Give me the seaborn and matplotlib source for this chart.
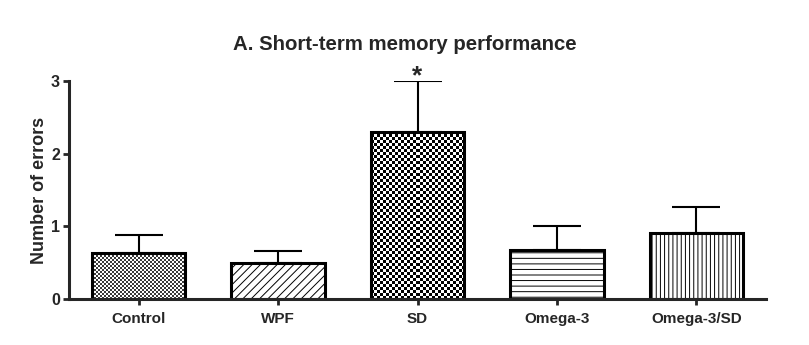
import numpy as np
import pandas as pd
import matplotlib
matplotlib.use("Agg")
import matplotlib.pyplot as plt
import seaborn as sns
from matplotlib.colors import ListedColormap

categories = ["Control", "WPF", "SD", "Omega-3", "Omega-3/SD"]
means = [0.63, 0.50, 2.30, 0.67, 0.91]
sem = [0.25, 0.16, 0.70, 0.33, 0.36]
yticks = [0, 1, 2, 3]
title = "A. Short-term memory performance"
ylabel = "Number of errors"

sns.set_style("ticks")
plt.rcParams["font.family"] = ["Liberation Sans", "DejaVu Sans"]
plt.rcParams["hatch.linewidth"] = 0.7

df = pd.DataFrame({"group": categories, "value": means})

fig = plt.figure(figsize=(8.09, 3.45), dpi=100)
ax = fig.add_axes([0.0853, 0.1333, 0.8617, 0.632])

sns.barplot(data=df, x="group", y="value", color="white", edgecolor="black",
            linewidth=2.2, width=0.67, errorbar=None, ax=ax, saturation=1)

patches = ax.patches
xs = np.arange(len(categories))
ax.errorbar(xs, means, yerr=[np.zeros(len(sem)), sem], fmt="none",
            ecolor="black", elinewidth=1.5, capsize=17, capthick=1.5, zorder=0.5)

ax.set_xlim(-0.5, 4.5)
ax.set_ylim(0, 3)
ax.set_yticks(yticks)

hatches = [None, "////", None, "---", "||||"]
for p, h in zip(patches, hatches):
    if h:
        p.set_hatch(h)

fig.canvas.draw()
checker = {0: (2.0, "#3a3a3a"), 2: (3.0, "black")}
for idx, (sq, col) in checker.items():
    p = patches[idx]
    bb = p.get_window_extent()
    nx = max(1, int(round(bb.width / sq)))
    ny = max(1, int(round(bb.height / sq)))
    arr = (np.add.outer(np.arange(ny), np.arange(nx)) % 2).astype(float)
    x0, y0 = p.get_x(), p.get_y()
    x1, y1 = x0 + p.get_width(), y0 + p.get_height()
    im = ax.imshow(arr, extent=(x0, x1, y0, y1), cmap=ListedColormap(["white", col]),
                   interpolation="nearest", aspect="auto", zorder=0.8)
    im.set_clip_path(p)
    p.set_facecolor("none")
    p.set_zorder(1)

ax.set_xlim(-0.5, 4.5)
ax.set_ylim(0, 3)

ax.annotate("*", xy=(2, means[2] + sem[2]), xytext=(0, -5), textcoords="offset points",
            ha="center", va="bottom", fontsize=19, fontweight="bold")

for s in ["top", "right"]:
    ax.spines[s].set_visible(False)
for s in ["left", "bottom"]:
    ax.spines[s].set_linewidth(2.2)
ax.tick_params(axis="both", width=2.0, length=4.5, labelsize=11, direction="out", pad=2)
ax.tick_params(axis="x", pad=5)
ax.tick_params(axis="y", labelsize=11.5)
for lab in ax.get_xticklabels() + ax.get_yticklabels():
    lab.set_fontweight("bold")
ax.set_xlabel("")
ax.set_ylabel(ylabel, fontsize=13, fontweight="bold", labelpad=2)
fig.suptitle(title, x=0.5, y=0.9, fontsize=14.7, fontweight="bold")

fig.savefig("out.png", dpi=100)
